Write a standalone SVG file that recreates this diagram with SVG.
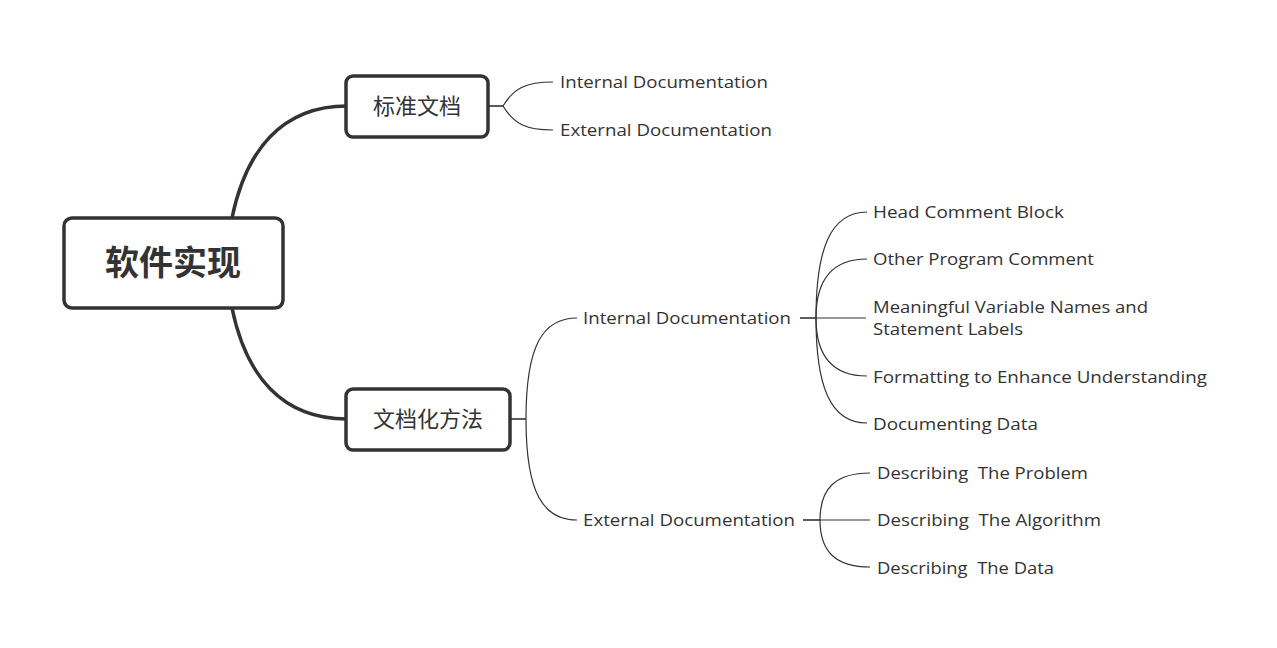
<svg xmlns="http://www.w3.org/2000/svg" width="1277" height="648" viewBox="0 0 1277 648">
<style>
.box{fill:#fff;stroke:#333;stroke-width:3.5}
.main{fill:none;stroke:#333;stroke-width:3.5}
.thin{fill:none;stroke:#333;stroke-width:1.2}
.stub{fill:none;stroke:#333;stroke-width:1.6}
.t{font-family:"Open Sans","Liberation Sans",sans-serif;font-size:16.5px;fill:#333;white-space:pre}
.cn{font-family:"Noto Sans CJK SC",sans-serif;fill:#333}
</style>
<rect width="1277" height="648" fill="#fff"/>
<g id="connectors">
<path class="main" d="M232,218 C246,150 282,106 347,106"/>
<path class="main" d="M232,308 C246,376 282,419 347,419"/>
<path class="stub" d="M488,106 H503"/>
<path class="thin" d="M503,106 C514,88 526,82 553,82"/>
<path class="thin" d="M503,106 C514,124 526,130 553,130"/>
<path class="stub" d="M510,419 H526"/>
<path class="thin" d="M526,419 C526,345 543,318 577,318"/>
<path class="thin" d="M526,419 C526,493 543,520 577,520"/>
<path class="stub" d="M800,318 H816"/>
<path class="thin" d="M816,318 C816,250 830,212 867,212"/>
<path class="thin" d="M816,318 C816,280 832,259 867,259"/>
<path class="thin" d="M816,318 H866"/>
<path class="thin" d="M816,318 C816,356 832,376 867,376"/>
<path class="thin" d="M816,318 C816,386 830,423 867,423"/>
<path class="stub" d="M803,520 H820"/>
<path class="thin" d="M820,520 C820,488 836,473 870,473"/>
<path class="thin" d="M820,520 H870"/>
<path class="thin" d="M820,520 C820,552 836,567 870,567"/>
</g>
<g id="root">
<rect class="box" x="64" y="218" width="219" height="90" rx="8"/>
<text class="cn" x="173" y="275" font-size="34" font-weight="bold" text-anchor="middle">软件实现</text>
</g>
<g id="n-std">
<rect class="box" x="346" y="76" width="142" height="61" rx="7"/>
<text class="cn" x="417" y="114" font-size="22" text-anchor="middle">标准文档</text>
</g>
<g id="n-method">
<rect class="box" x="346" y="389" width="164" height="61" rx="7"/>
<text class="cn" x="428" y="427" font-size="22" text-anchor="middle">文档化方法</text>
</g>
<g id="std-internal"><text class="t" x="560" y="88" textLength="208" lengthAdjust="spacingAndGlyphs">Internal Documentation</text></g>
<g id="std-external"><text class="t" x="560" y="136" textLength="212" lengthAdjust="spacingAndGlyphs">External Documentation</text></g>
<g id="m-internal"><text class="t" x="583" y="324" textLength="208" lengthAdjust="spacingAndGlyphs">Internal Documentation</text></g>
<g id="m-external"><text class="t" x="583" y="526" textLength="212" lengthAdjust="spacingAndGlyphs">External Documentation</text></g>
<g id="i1"><text class="t" x="873" y="218" textLength="191" lengthAdjust="spacingAndGlyphs">Head Comment Block</text></g>
<g id="i2"><text class="t" x="873" y="265" textLength="221" lengthAdjust="spacingAndGlyphs">Other Program Comment</text></g>
<g id="i3"><text class="t" x="873" y="313" textLength="275" lengthAdjust="spacingAndGlyphs">Meaningful Variable Names and</text><text class="t" x="873" y="335" textLength="150" lengthAdjust="spacingAndGlyphs">Statement Labels</text></g>
<g id="i4"><text class="t" x="873" y="383" textLength="334" lengthAdjust="spacingAndGlyphs">Formatting to Enhance Understanding</text></g>
<g id="i5"><text class="t" x="873" y="430" textLength="165" lengthAdjust="spacingAndGlyphs">Documenting Data</text></g>
<g id="e1"><text class="t" x="877" y="479" textLength="211" lengthAdjust="spacingAndGlyphs">Describing  The Problem</text></g>
<g id="e2"><text class="t" x="877" y="526" textLength="224" lengthAdjust="spacingAndGlyphs">Describing  The Algorithm</text></g>
<g id="e3"><text class="t" x="877" y="574" textLength="177" lengthAdjust="spacingAndGlyphs">Describing  The Data</text></g>
</svg>
